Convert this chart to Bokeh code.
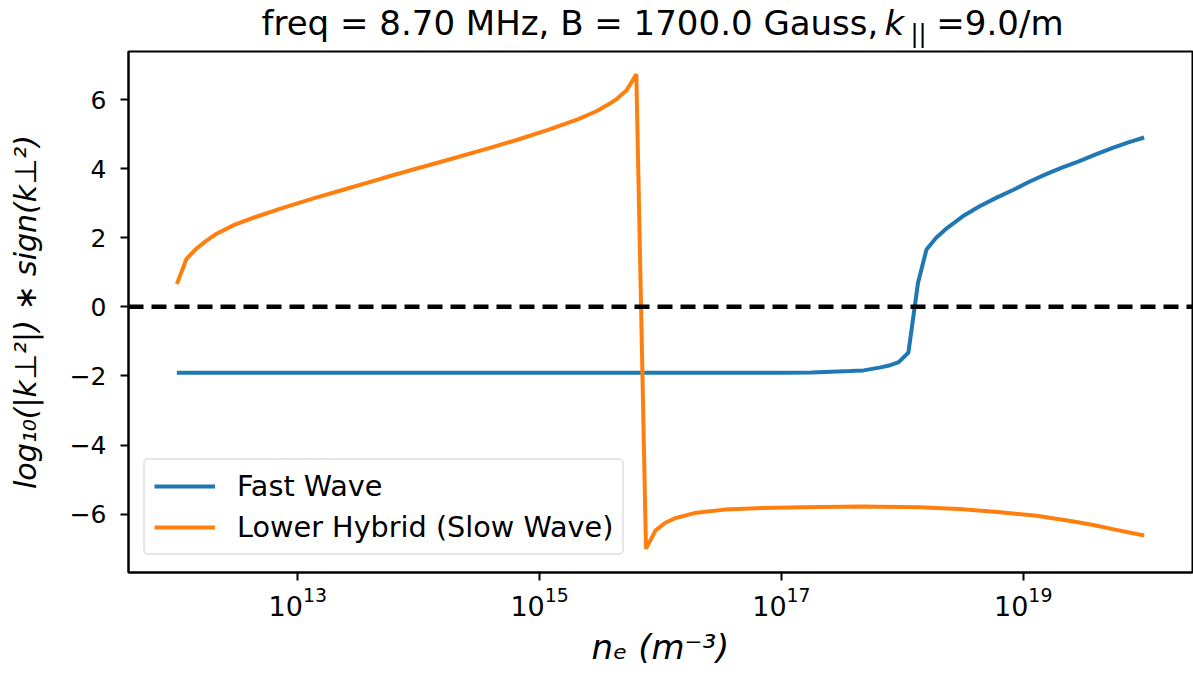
from bokeh.plotting import figure
from bokeh.layouts import column
from bokeh.models import FixedTicker, Span, Label, LogTickFormatter, Legend
from bokeh.embed import file_html
from bokeh.resources import INLINE

# ---- data (log10 of electron density, log10(|k_perp^2|)*sign(k_perp^2)) ----
fw_exp = [12.00, 12.50, 13.00, 13.50, 14.00, 14.50, 15.00, 15.50, 16.00, 16.50,
          17.00, 17.25, 17.41, 17.57, 17.68, 17.81, 17.89, 17.97, 18.05, 18.13,
          18.20, 18.28, 18.37, 18.50, 18.64, 18.78, 18.92, 19.05, 19.19, 19.32,
          19.46, 19.60, 19.74, 19.87, 20.00]
fw_val = [-1.91, -1.91, -1.91, -1.91, -1.91, -1.91, -1.91, -1.91, -1.91, -1.91,
          -1.91, -1.90, -1.88, -1.86, -1.84, -1.76, -1.70, -1.60, -1.33, 0.70,
          1.66, 2.00, 2.28, 2.62, 2.91, 3.16, 3.39, 3.62, 3.84, 4.03,
          4.21, 4.41, 4.60, 4.76, 4.90]

lh_exp = [12.00, 12.08, 12.16, 12.24, 12.32, 12.48, 12.65, 12.89, 13.13, 13.37,
          13.70, 13.94, 14.26, 14.59, 14.83, 15.07, 15.31, 15.47, 15.57, 15.64,
          15.72, 15.80, 15.88, 15.96, 16.04, 16.12, 16.28, 16.53, 16.85, 17.17,
          17.66, 18.14, 18.47, 18.79, 19.11, 19.43, 19.60, 19.76, 20.00]
lh_val = [0.66, 1.39, 1.68, 1.90, 2.10, 2.38, 2.60, 2.88, 3.14, 3.38,
          3.72, 3.96, 4.27, 4.60, 4.85, 5.12, 5.42, 5.66, 5.86, 6.02,
          6.27, 6.73, -7.00, -6.47, -6.25, -6.12, -5.97, -5.87, -5.82, -5.80,
          -5.78, -5.80, -5.85, -5.94, -6.05, -6.22, -6.33, -6.45, -6.62]

x_tick_exp = [13, 15, 17, 19]
y_ticks = [-6, -4, -2, 0, 2, 4, 6]

title_parts = ["freq = 8.70 MHz, B = 1700.0 Gauss,", "k", "||", "=9.0/m"]

fw_ne = [10.0 ** e for e in fw_exp]
lh_ne = [10.0 ** e for e in lh_exp]

FONT = "DejaVu Sans"
LEFT, RIGHT = 128, 1192

# ---------------- title strip (coordinates = page pixels) ----------------
t = figure(width=1193, height=50, x_range=(LEFT, RIGHT), y_range=(50, 0),
           output_backend="svg", toolbar_location=None,
           x_axis_location=None, y_axis_location=None,
           min_border_left=LEFT, min_border_right=1193 - RIGHT,
           min_border_top=0, min_border_bottom=0)
t.xgrid.visible = False
t.ygrid.visible = False
t.outline_line_color = None
t.background_fill_color = "white"
t.border_fill_color = "white"

mid_y = 22
t.add_layout(Label(x=261, y=mid_y, text=title_parts[0], text_font=FONT,
                   text_font_size="34px", text_baseline="middle",
                   text_align="left", text_color="black"))
t.add_layout(Label(x=884, y=mid_y, text=title_parts[1], text_font=FONT,
                   text_font_style="italic", text_font_size="34px",
                   text_baseline="middle", text_align="left",
                   text_color="black"))
t.add_layout(Label(x=910, y=mid_y + 11, text=title_parts[2], text_font=FONT,
                   text_font_size="24px", text_baseline="middle",
                   text_align="left", text_color="black"))
t.add_layout(Label(x=1063, y=mid_y, text=title_parts[3], text_font=FONT,
                   text_font_size="34px", text_baseline="middle",
                   text_align="right", text_color="black"))

# ---------------- main plot ----------------
p = figure(width=1193, height=625, x_axis_type="log",
           x_range=(10 ** 11.6, 10 ** 20.4), y_range=(-7.69, 7.39),
           output_backend="svg", toolbar_location=None,
           min_border_left=LEFT, min_border_right=1193 - RIGHT, min_border_top=1,
           min_border_bottom=103)

p.background_fill_color = "white"
p.border_fill_color = "white"
p.xgrid.visible = False
p.ygrid.visible = False
p.outline_line_color = "black"
p.outline_line_width = 2
p.outline_line_alpha = 1.0

p.line(fw_ne, fw_val, line_color="#1f77b4", line_width=4, legend_label="Fast Wave")
p.line(lh_ne, lh_val, line_color="#ff7f0e", line_width=4,
       legend_label="Lower Hybrid (Slow Wave)")

p.add_layout(Span(location=0, dimension="width", line_color="black",
                  line_dash="15 8", line_width=4.5))

p.xaxis.ticker = FixedTicker(ticks=[10.0 ** e for e in x_tick_exp], minor_ticks=[])
p.xaxis.formatter = LogTickFormatter()
p.yaxis.ticker = FixedTicker(ticks=y_ticks, minor_ticks=[])
p.yaxis.major_label_overrides = {v: str(v).replace("-", "\u2212") for v in y_ticks}

for ax in (p.xaxis[0], p.yaxis[0]):
    ax.axis_line_color = "black"
    ax.axis_line_width = 2
    ax.major_tick_line_color = "black"
    ax.major_tick_line_width = 2
    ax.major_tick_out = 8
    ax.major_tick_in = 0
    ax.minor_tick_out = 0
    ax.minor_tick_in = 0
    ax.major_label_text_font = FONT
    ax.major_label_text_font_size = "25px"
    ax.major_label_text_color = "black"
    ax.axis_label_text_font = FONT
    ax.axis_label_text_font_style = "italic"
    ax.axis_label_text_color = "black"

p.xaxis.major_label_text_font_size = "27px"
p.xaxis.major_label_standoff = 6
p.xaxis.axis_label = "n\u2091 (m\u207b\u00b3)"
p.xaxis.axis_label_text_font_size = "34px"
p.xaxis.axis_label_standoff = 8

p.yaxis.major_label_standoff = 14
p.yaxis.axis_label = "log\u2081\u2080(|k\u22a5\u00b2|) \u2217 sign(k\u22a5\u00b2)"
p.yaxis.axis_label_text_font_size = "30px"
p.yaxis.axis_label_standoff = 24

lg = p.legend[0]
lg.location = (15, 17)
lg.label_text_font = FONT
lg.label_text_font_size = "28.7px"
lg.label_text_color = "black"
lg.glyph_width = 61
lg.glyph_height = 20
lg.label_standoff = 22
lg.spacing = 7
lg.padding = 9
lg.margin = 0
lg.border_line_color = "#cccccc"
lg.border_line_width = 2
lg.background_fill_color = "white"
lg.background_fill_alpha = 0.8
if "border_radius" in Legend.properties():
    lg.border_radius = 5

layout = column(t, p, spacing=0)
open("out.html", "w").write(file_html(layout, INLINE))
